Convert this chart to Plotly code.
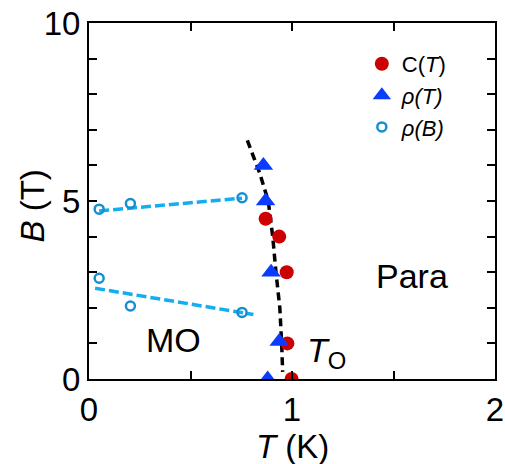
import plotly.graph_objects as go

# C(T) data
c_T = [0.87, 0.937, 0.974, 0.977, 0.998]
c_B = [4.5, 4.0, 3.0, 1.0, 0.0]
# rho(T) data
rt_T = [0.859, 0.87, 0.897, 0.937, 0.88]
rt_B = [6.0, 5.0, 3.0, 1.05, 0.0]
# rho(B) data
rb_T = [0.05, 0.204, 0.754, 0.05, 0.204, 0.754]
rb_B = [4.77, 4.93, 5.09, 2.83, 2.05, 1.87]
# guide lines for rho(B)
upper_T = [0.05, 0.754]
upper_B = [4.72, 5.08]
lower_T = [0.03, 0.81]
lower_B = [2.55, 1.81]
# phase boundary T_O
bnd_T = [0.78, 0.84, 0.883, 0.905, 0.921, 0.94, 0.949, 0.954]
bnd_B = [6.7, 5.8, 5.0, 4.0, 3.0, 2.0, 1.0, 0.2]

FONT = "Arial, Liberation Sans, sans-serif"
fig = go.Figure()

fig.add_trace(go.Scatter(x=upper_T, y=upper_B, mode="lines", showlegend=False,
                         line=dict(color="#12aef0", width=3.5, dash="10px,4px")))
fig.add_trace(go.Scatter(x=lower_T, y=lower_B, mode="lines", showlegend=False,
                         line=dict(color="#12aef0", width=3.5, dash="10px,4px")))
fig.add_trace(go.Scatter(x=bnd_T, y=bnd_B, mode="lines", showlegend=False,
                         line=dict(color="black", width=3.5, dash="8px,5px")))

fig.add_trace(go.Scatter(x=c_T, y=c_B, mode="markers", name="C(<i>T</i>)",
                         marker=dict(symbol="circle", size=14, color="#cc0000")))
fig.add_trace(go.Scatter(x=rt_T, y=rt_B, mode="markers", name="<i>ρ(T)</i>",
                         marker=dict(symbol="triangle-up", size=17, color="#0a3cff")))
fig.add_trace(go.Scatter(x=rb_T, y=rb_B, mode="markers", name="<i>ρ(B)</i>",
                         marker=dict(symbol="circle-open", size=9, color="#168fd2",
                                     line=dict(width=2.5, color="#168fd2"))))

fig.add_annotation(x=1.59, y=2.9, text="Para", showarrow=False,
                   font=dict(size=34, color="black", family=FONT))
fig.add_annotation(x=0.415, y=1.1, text="MO", showarrow=False,
                   font=dict(size=34, color="black", family=FONT))
fig.add_annotation(x=1.17, y=0.75, text="<i>T</i><sub>O</sub>", showarrow=False,
                   font=dict(size=34, color="black", family=FONT))

# axis titles
fig.add_annotation(xref="paper", yref="paper", x=0.5, y=-0.19, yanchor="middle",
                   text="<i>T</i> (K)", showarrow=False,
                   font=dict(size=33, color="black", family=FONT))
fig.add_annotation(xref="paper", yref="paper", x=-0.14, y=0.485, xanchor="center",
                   text="<i>B</i> (T)", showarrow=False, textangle=-90,
                   font=dict(size=33, color="black", family=FONT))

axis_common = dict(showline=True, linecolor="black", linewidth=2, mirror="allticks",
                   ticks="inside", ticklen=8, tickwidth=2, tickcolor="black",
                   showgrid=False, zeroline=False, automargin=False,
                   ticklabeloverflow="allow",
                   tickfont=dict(size=33, color="black", family=FONT))

fig.update_xaxes(range=[0, 2], tickvals=[0, 0.5, 1, 1.5, 2], ticktext=["0", "", "1", "", "2"],
                 **axis_common)
fig.update_yaxes(range=[0, 10], tickvals=list(range(0, 11)),
                 ticktext=["0", "", "", "", "", "5", "", "", "", "", "10"],
                 **axis_common)

fig.update_layout(width=505, height=464, margin=dict(l=89, r=10, t=23, b=85),
                  plot_bgcolor="white", paper_bgcolor="white",
                  font=dict(family=FONT, color="black"),
                  legend=dict(x=0.672, y=0.944, xanchor="left", yanchor="top",
                              bgcolor="rgba(0,0,0,0)", font=dict(size=22, family=FONT),
                              tracegroupgap=0, itemsizing="trace"))

fig.write_html("out.html", config={"displayModeBar": False},
               post_script="document.body.style.margin='0';"
                           "document.documentElement.style.overflow='hidden';")
